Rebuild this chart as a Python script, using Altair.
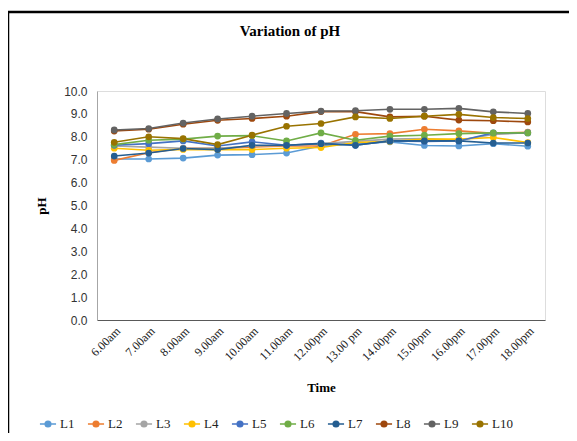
import altair as alt
import pandas as pd

times = ["6.00am", "7.00am", "8.00am", "9.00am", "10.00am", "11.00am", "12.00pm",
         "13.00 pm", "14.00pm", "15.00pm", "16.00pm", "17.00pm", "18.00pm"]
series_names = ["L1", "L2", "L3", "L4", "L5", "L6", "L7", "L8", "L9", "L10"]
L1 = [7.03, 7.03, 7.07, 7.20, 7.22, 7.29, 7.60, 7.70, 7.78, 7.62, 7.60, 7.70, 7.59]
L2 = [6.97, 7.30, 7.50, 7.50, 7.55, 7.60, 7.60, 8.11, 8.14, 8.33, 8.26, 8.15, 8.20]
L3 = [7.60, 7.55, 7.50, 7.50, 7.60, 7.62, 7.70, 7.80, 7.90, 7.92, 7.85, 8.10, 8.18]
L4 = [7.50, 7.41, 7.45, 7.44, 7.44, 7.50, 7.53, 7.75, 7.80, 7.90, 7.90, 7.97, 7.75]
L5 = [7.63, 7.70, 7.82, 7.60, 7.78, 7.63, 7.72, 7.63, 7.82, 7.80, 7.82, 8.17, 8.17]
L6 = [7.66, 7.85, 7.90, 8.03, 8.05, 7.82, 8.17, 7.85, 8.03, 8.07, 8.14, 8.17, 8.17]
L7 = [7.16, 7.29, 7.49, 7.44, 7.63, 7.63, 7.70, 7.63, 7.82, 7.82, 7.82, 7.73, 7.73]
L8 = [8.25, 8.33, 8.55, 8.72, 8.80, 8.90, 9.10, 9.10, 8.87, 8.90, 8.73, 8.70, 8.65]
L9 = [8.30, 8.36, 8.60, 8.78, 8.90, 9.02, 9.12, 9.14, 9.20, 9.20, 9.24, 9.09, 9.02]
L10 = [7.76, 8.00, 7.92, 7.66, 8.07, 8.46, 8.58, 8.87, 8.80, 8.90, 8.98, 8.84, 8.80]
colors = ["#5B9BD5", "#ED7D31", "#A5A5A5", "#FFC000", "#4472C4",
          "#70AD47", "#255E91", "#9E480E", "#636363", "#997300"]

all_series = [L1, L2, L3, L4, L5, L6, L7, L8, L9, L10]
rows = []
for name, vals in zip(series_names, all_series):
    for t, v in zip(times, vals):
        rows.append({"Time": t, "pH": v, "Series": name})
df = pd.DataFrame(rows)

serif = "Liberation Serif"
sans = "Liberation Sans"

color = alt.Color(
    "Series:N",
    sort=series_names,
    scale=alt.Scale(domain=series_names, range=colors),
    legend=alt.Legend(
        orient="none",
        legendX=-58,
        legendY=324,
        direction="horizontal",
        columns=10,
        title=None,
        labelFont=serif,
        labelFontSize=13,
        labelColor="#222222",
        symbolType="M-1,0L1,0M-0.35,0A0.35,0.35 0 1,1 0.35,0A0.35,0.35 0 1,1 -0.35,0Z",
        symbolSize=260,
        symbolStrokeWidth=1.5,
        columnPadding=9,
        labelOffset=3,
    ),
)

x = alt.X(
    "Time:N",
    sort=times,
    scale=alt.Scale(type="point", padding=0.5),
    axis=alt.Axis(
        title="Time",
        titleFont=serif,
        titleFontSize=13,
        titleFontWeight="bold",
        titleColor="#000000",
        titlePadding=17,
        labelAngle=-45,
        labelFont=serif,
        labelFontSize=12,
        labelColor="#222222",
        ticks=False,
        domainColor="#595959",
        labelPadding=5,
    ),
)
y = alt.Y(
    "pH:Q",
    scale=alt.Scale(domain=[0, 10]),
    axis=alt.Axis(
        title="pH",
        titleFont=serif,
        titleFontSize=13,
        titleFontWeight="bold",
        titleColor="#000000",
        titlePadding=15,
        values=[0, 1, 2, 3, 4, 5, 6, 7, 8, 9, 10],
        format=".1f",
        labelFont=sans,
        labelFontSize=12,
        labelColor="#333333",
        grid=False,
        ticks=False,
        domainColor="#A6A6A6",
        labelPadding=10,
    ),
)

lines = alt.Chart(df).mark_line(strokeWidth=1.6).encode(
    x=x, y=y, color=color, detail="Series:N"
)
points = alt.Chart(df).mark_point(filled=True, size=45, opacity=1).encode(
    x=x, y=y, color=alt.Color("Series:N", sort=series_names,
                              scale=alt.Scale(domain=series_names, range=colors),
                              legend=None)
)
frame = alt.Chart(pd.DataFrame({"a": [0]})).mark_rect(
    fill=None, stroke="#000000", strokeWidth=2.5
).encode(
    x=alt.value(-89), x2=alt.value(520), y=alt.value(-79), y2=alt.value(380)
)

chart = alt.layer(frame, lines, points).properties(
    width=448,
    height=229,
    padding={"left": 89, "top": 83, "right": 24, "bottom": 113},
    autosize=alt.AutoSizeParams(type="none"),
    title=alt.TitleParams(
        "Variation of pH",
        font=serif,
        fontSize=15,
        fontWeight="bold",
        color="#000000",
        anchor="middle",
        frame="group",
        dx=-31,
        offset=-28,
    ),
).configure_view(stroke=None).configure(background="white")

chart.save("out.html", embed_options={"renderer": "svg", "actions": False})
